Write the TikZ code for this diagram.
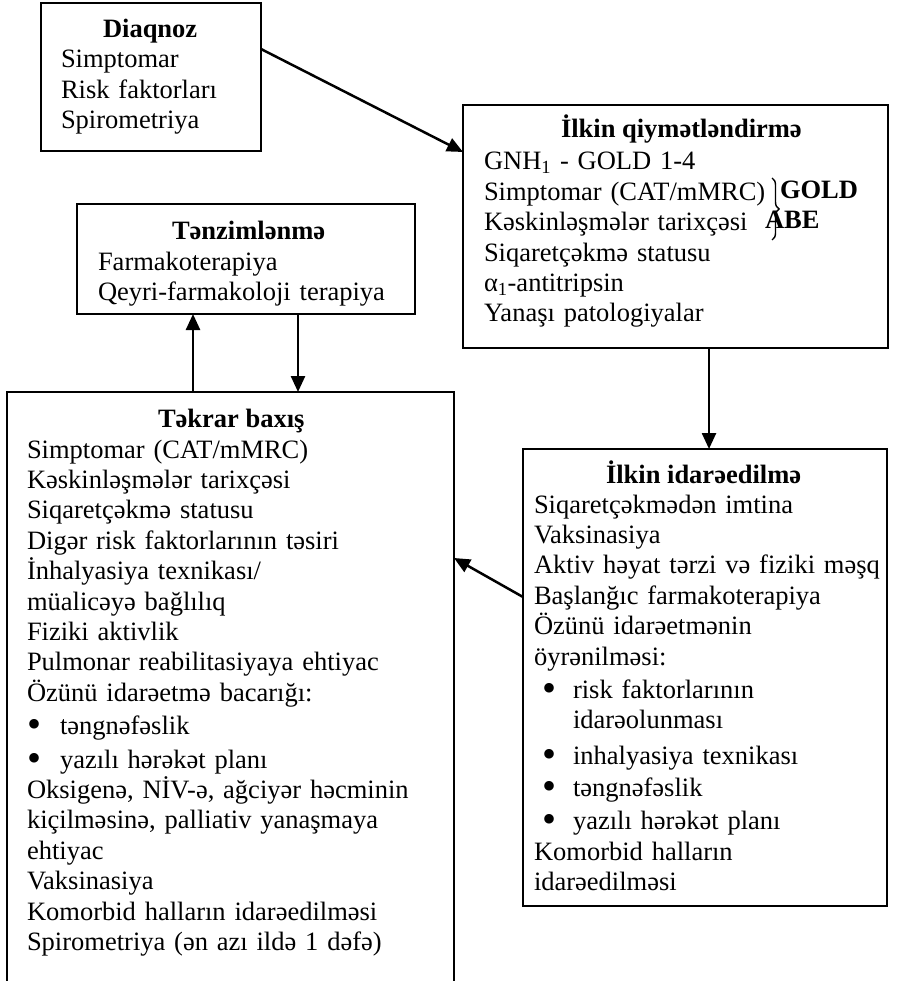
\documentclass[tikz,border=0pt]{standalone}
\usepackage{fontspec}
\setmainfont{Liberation Serif}
\usetikzlibrary{arrows.meta,calc,decorations.pathreplacing}
\newcommand\bigbul{\smash{\fontsize{40}{30}\selectfont\raisebox{-3pt}{\textbullet}}}
\begin{document}
\begin{tikzpicture}[x=1pt,y=-1pt,
  box/.style={draw,line width=1.8pt,inner sep=0pt,outer sep=0pt,anchor=north west},
  body/.style={inner sep=0pt,outer sep=0pt,anchor=base west,align=left,font=\fontsize{26.5}{30.4}\selectfont},
  ttl/.style={inner sep=0pt,outer sep=0pt,anchor=base west,font=\fontsize{26.5}{30.4}\selectfont\bfseries},
  arr/.style={line width=2.5pt,-{Triangle[length=16pt,width=14pt]}}]
\useasboundingbox (0,0) rectangle (902,981);
\clip (0,0) rectangle (902,981);
% boxes
\node[box,minimum width=220pt,minimum height=148pt] (diag) at (41,3) {};
\node[box,minimum width=425pt,minimum height=243pt] (iq) at (463,105) {};
\node[box,minimum width=338pt,minimum height=110pt] (tz) at (77,204) {};
\node[box,minimum width=447pt,minimum height=620pt] (tb) at (7,392) {};
\node[box,minimum width=364pt,minimum height=457pt] (ii) at (523,449) {};
% Diaqnoz
\node[ttl] (diagT) at (103,38) {Diaqnoz};
\node[body,text width=190pt] (diagB) at (61,68) {Simptomar\\Risk faktorları\\Spirometriya};
% Ilkin qiymetlendirme
\node[ttl] (iqT) at (561,138) {İlkin qiymətləndirmə};
\node[body,text width=390pt] (iqB) at (484,170) {GNH\textsubscript{1} - GOLD 1-4\\Simptomar (CAT/mMRC)\\Kəskinləşmələr tarixçəsi\\Siqaretçəkmə statusu\\α\textsubscript{1}-antitripsin\\Yanaşı patologiyalar};
\node[ttl] (gold) at (780,199) {GOLD};
\node[ttl] (abe) at (765,229) {ABE};
\draw[line width=1.4pt,decorate,decoration={brace,amplitude=7pt}] (772,178) -- (772,240);
% Tenzimlenme
\node[ttl] (tzT) at (172,240) {Tənzimlənmə};
\node[body,text width=310pt] (tzB) at (98,270) {Farmakoterapiya\\Qeyri-farmakoloji terapiya};
% Tekrar baxis
\node[ttl] (tbT) at (158,427) {Təkrar baxış};
\node[body,text width=420pt] (tbB) at (27,458) {Simptomar (CAT/mMRC)\\Kəskinləşmələr tarixçəsi\\Siqaretçəkmə statusu\\Digər risk faktorlarının təsiri\\İnhalyasiya texnikası/\\müalicəyə bağlılıq\\Fiziki aktivlik\\Pulmonar reabilitasiyaya ehtiyac\\Özünü idarəetmə bacarığı:\\[3pt]
\makebox[33pt][l]{\bigbul}təngnəfəslik\\[3pt]
\makebox[33pt][l]{\bigbul}yazılı hərəkət planı\\
\makebox[405pt][s]{Oksigenə, NİV-ə, ağciyər həcminin}\\
\makebox[405pt][s]{kiçilməsinə, palliativ yanaşmaya}\\
ehtiyac\\Vaksinasiya\\Komorbid halların idarəedilməsi\\Spirometriya (ən azı ildə 1 dəfə)};
% Ilkin idareedilme
\node[ttl] (iiT) at (606,483) {İlkin idarəedilmə};
\node[body,text width=400pt] (iiB) at (534,513) {Siqaretçəkmədən imtina\\Vaksinasiya\\Aktiv həyat tərzi və fiziki məşq\\Başlanğıc farmakoterapiya\\Özünü idarəetmənin\\öyrənilməsi:\\[3pt]
\hspace*{8pt}\makebox[31pt][l]{\bigbul}risk faktorlarının\\
\hspace*{39pt}idarəolunması\\[5pt]
\hspace*{8pt}\makebox[31pt][l]{\bigbul}inhalyasiya texnikası\\[2pt]
\hspace*{8pt}\makebox[31pt][l]{\bigbul}təngnəfəslik\\[2pt]
\hspace*{8pt}\makebox[31pt][l]{\bigbul}yazılı hərəkət planı\\[1pt]
Komorbid halların\\idarəedilməsi};
% connectors
\draw[arr] ($(diag.north east)+(0,46)$) -- ($(iq.north west)+(0,47)$);
\draw[arr] ($(iq.south west)+(246,0)$) -- ($(ii.north west)+(186,0)$);
\draw[arr] ($(ii.north west)+(0,148)$) -- ($(tb.north east)+(0,166)$);
\draw[arr] ($(tb.north west)+(186,0)$) -- ($(tz.south west)+(116,0)$);
\draw[arr] ($(tz.south west)+(221,0)$) -- ($(tb.north west)+(291,0)$);
\end{tikzpicture}
\end{document}
